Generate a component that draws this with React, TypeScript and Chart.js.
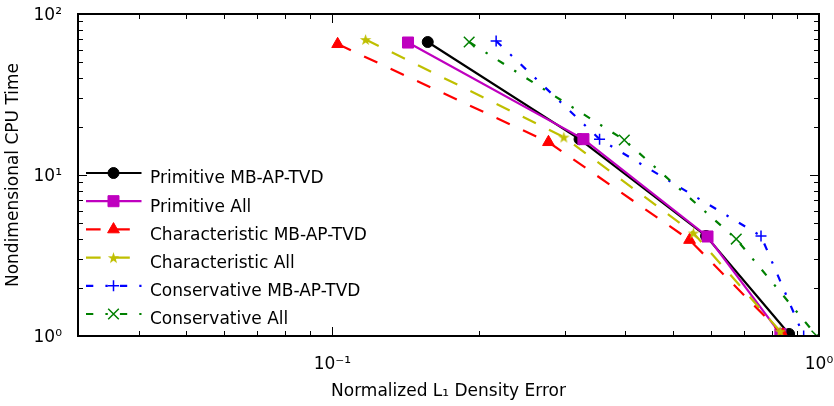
import React, { useEffect, useRef } from 'react';
import { Chart, registerables } from 'chart.js';
import { drawPoint } from 'chart.js/helpers';

Chart.register(...registerables);

// ---- Data ----
const seriesLabels = [
  'Primitive MB-AP-TVD',
  'Primitive All',
  'Characteristic MB-AP-TVD',
  'Characteristic All',
  'Conservative MB-AP-TVD',
  'Conservative All',
];

const primMBError = [0.157, 0.322, 0.586, 0.868];
const primMBTime = [67.0, 16.7, 4.18, 1.03];

const primAllError = [0.143, 0.328, 0.590, 0.833];
const primAllTime = [66.5, 16.7, 4.15, 1.03];

const charMBError = [0.1025, 0.278, 0.542, 0.843];
const charMBTime = [65.0, 16.0, 3.95, 1.02];

const charAllError = [0.117, 0.299, 0.552, 0.832];
const charAllTime = [69.5, 17.2, 4.36, 1.07];

const consMBError = [0.217, 0.354, 0.760, 0.93];
const consMBTime = [68.0, 16.7, 4.18, 1.0];

const consAllError = [0.191, 0.398, 0.676, 0.99];
const consAllTime = [67.0, 16.5, 4.0, 1.0];

const xTickValues = [0.03, 0.04, 0.05, 0.06, 0.07, 0.08, 0.09, 0.1, 0.2, 0.3, 0.4, 0.5, 0.6, 0.7, 0.8, 0.9, 1];
const yTickValues = [1, 2, 3, 4, 5, 6, 7, 8, 9, 10, 20, 30, 40, 50, 60, 70, 80, 90, 100];

const X_MIN = 0.03;
const X_MAX = 1;
const Y_MIN = 1;
const Y_MAX = 100;

const FONT = 'DejaVu Sans';
const FS = 17;

const SUP: Record<string, string> = { '-': '⁻', '0': '⁰', '1': '¹', '2': '²', '3': '³' };

function isPow10(v: number) {
  const l = Math.log10(v);
  return Math.abs(l - Math.round(l)) < 1e-9;
}
function powLabel(v: number) {
  if (!isPow10(v)) return '';
  const e = String(Math.round(Math.log10(v)));
  return '10' + e.split('').map((c) => SUP[c] || c).join('');
}

function makeStar(color: string, size: number) {
  const c = document.createElement('canvas');
  c.width = size;
  c.height = size;
  const g = c.getContext('2d')!;
  const cx = size / 2;
  const cy = size / 2 + 0.6;
  const ro = size / 2 - 0.5;
  const ri = ro * 0.4;
  g.beginPath();
  for (let i = 0; i < 10; i++) {
    const r = i % 2 === 0 ? ro : ri;
    const a = -Math.PI / 2 + (i * Math.PI) / 5;
    const px = cx + r * Math.cos(a);
    const py = cy + r * Math.sin(a);
    if (i === 0) g.moveTo(px, py);
    else g.lineTo(px, py);
  }
  g.closePath();
  g.fillStyle = color;
  g.fill();
  return c;
}

const DASHED = [14.6, 14.6];
const DASHDOT = [7.3, 12.1, 2.4, 12.1];

const frameTicksPlugin = {
  id: 'frameTicks',
  afterDatasetsDraw(chart: any) {
    const { ctx, chartArea } = chart;
    const { left, right, top, bottom } = chartArea;
    const xs = chart.scales.x;
    const ys = chart.scales.y;
    ctx.save();
    ctx.strokeStyle = '#000';
    ctx.lineWidth = 1;
    ctx.beginPath();
    for (const t of xs.ticks) {
      const p = Math.round(xs.getPixelForValue(t.value)) + 0.5;
      const len = isPow10(t.value) ? 9 : 5;
      ctx.moveTo(p, bottom);
      ctx.lineTo(p, bottom - len);
      ctx.moveTo(p, top);
      ctx.lineTo(p, top + len);
    }
    for (const t of ys.ticks) {
      const p = Math.round(ys.getPixelForValue(t.value)) + 0.5;
      const len = isPow10(t.value) ? 9 : 5;
      ctx.moveTo(left, p);
      ctx.lineTo(left + len, p);
      ctx.moveTo(right, p);
      ctx.lineTo(right - len, p);
    }
    ctx.stroke();
    ctx.lineWidth = 2;
    ctx.strokeRect(left, top, right - left, bottom - top);
    ctx.restore();
  },
};

const innerLegendPlugin = {
  id: 'innerLegend',
  afterDraw(chart: any) {
    const { ctx } = chart;
    const x0 = 86;
    const x1 = 141.5;
    const xm = 113.5;
    const yLine0 = 173;
    const step = 28.2;
    ctx.save();
    chart.data.datasets.forEach((ds: any, i: number) => {
      const y = yLine0 + i * step;
      ctx.save();
      ctx.strokeStyle = ds.borderColor;
      ctx.lineWidth = ds.borderWidth;
      ctx.setLineDash(ds.borderDash || []);
      ctx.lineDashOffset = 0;
      ctx.beginPath();
      ctx.moveTo(x0, y);
      ctx.lineTo(x1, y);
      ctx.stroke();
      ctx.setLineDash([]);
      ctx.fillStyle = ds.pointBackgroundColor;
      ctx.strokeStyle = ds.pointBorderColor;
      ctx.lineWidth = ds.pointBorderWidth;
      drawPoint(ctx, { pointStyle: ds.pointStyle, rotation: 0, radius: ds.pointRadius, borderWidth: ds.pointBorderWidth }, xm, y);
      ctx.restore();
      ctx.fillStyle = '#000';
      ctx.font = `${FS}px "${FONT}"`;
      ctx.textAlign = 'left';
      ctx.textBaseline = 'middle';
      ctx.fillText(ds.label, 150, y + 6);
    });
    ctx.restore();
  },
};

function pts(xs: number[], ys: number[]) {
  return xs.map((x, i) => ({ x, y: ys[i] }));
}

export default function App() {
  const ref = useRef<HTMLCanvasElement>(null);

  useEffect(() => {
    const star = makeStar('#bfbf00', 13);
    const base = (i: number) => ({
      label: seriesLabels[i],
      order: 10 - i,
      tension: 0,
      clip: 0,
      fill: false,
    });
    const datasets: any[] = [
      {
        ...base(0),
        data: pts(primMBError, primMBTime),
        borderColor: '#000000',
        borderWidth: 2.2,
        pointStyle: 'circle',
        pointRadius: 5.5,
        pointBackgroundColor: '#000000',
        pointBorderColor: '#000000',
        pointBorderWidth: 1,
      },
      {
        ...base(1),
        data: pts(primAllError, primAllTime),
        borderColor: '#bf00bf',
        borderWidth: 2.2,
        pointStyle: 'rect',
        pointRadius: 7.8,
        pointBackgroundColor: '#bf00bf',
        pointBorderColor: '#bf00bf',
        pointBorderWidth: 1,
      },
      {
        ...base(2),
        data: pts(charMBError, charMBTime),
        borderColor: '#ff0000',
        borderWidth: 2.2,
        borderDash: DASHED,
        pointStyle: 'triangle',
        pointRadius: 6.8,
        pointBackgroundColor: '#ff0000',
        pointBorderColor: '#ff0000',
        pointBorderWidth: 1,
      },
      {
        ...base(3),
        data: pts(charAllError, charAllTime),
        borderColor: '#bfbf00',
        borderWidth: 2.2,
        borderDash: DASHED,
        pointStyle: star,
        pointRadius: 6.5,
        pointBackgroundColor: '#bfbf00',
        pointBorderColor: '#bfbf00',
        pointBorderWidth: 1,
      },
      {
        ...base(4),
        data: pts(consMBError, consMBTime),
        borderColor: '#0000ff',
        borderWidth: 2.2,
        borderDash: DASHDOT,
        pointStyle: 'cross',
        pointRadius: 5.5,
        pointBackgroundColor: '#0000ff',
        pointBorderColor: '#0000ff',
        pointBorderWidth: 1.5,
      },
      {
        ...base(5),
        data: pts(consAllError, consAllTime),
        borderColor: '#008000',
        borderWidth: 2.2,
        borderDash: DASHDOT,
        pointStyle: 'crossRot',
        pointRadius: 7.5,
        pointBackgroundColor: '#008000',
        pointBorderColor: '#008000',
        pointBorderWidth: 1.5,
      },
    ];

    const chart = new Chart(ref.current!, {
      type: 'line',
      data: { datasets },
      options: {
        animation: false,
        responsive: false,
        maintainAspectRatio: false,
        devicePixelRatio: 1,
        layout: { padding: { top: 14, right: 15, bottom: 0, left: 0 } },
        plugins: {
          legend: { display: false },
          tooltip: { enabled: false },
        },
        elements: { point: { hoverRadius: 5 } },
        scales: {
          x: {
            type: 'logarithmic',
            min: X_MIN,
            max: X_MAX,
            afterBuildTicks: (s: any) => {
              s.ticks = xTickValues.map((v) => ({ value: v }));
            },
            afterFit: (s: any) => {
              s.height = 70;
              s.paddingLeft = 0;
              s.paddingRight = 0;
              s.paddingTop = 0;
              s.paddingBottom = 0;
            },
            grid: { display: false, drawTicks: false },
            border: { display: false },
            ticks: {
              autoSkip: false,
              maxRotation: 0,
              minRotation: 0,
              padding: 18,
              color: '#000',
              font: { family: FONT, size: FS },
              callback: (v: any) => powLabel(Number(v)),
            },
            title: {
              display: true,
              text: 'Normalized L₁ Density Error',
              color: '#000',
              font: { family: FONT, size: FS },
              padding: { top: 0, bottom: 4 },
            },
          },
          y: {
            type: 'logarithmic',
            min: Y_MIN,
            max: Y_MAX,
            afterBuildTicks: (s: any) => {
              s.ticks = yTickValues.map((v) => ({ value: v }));
            },
            afterFit: (s: any) => {
              s.width = 78;
              s.paddingLeft = 0;
              s.paddingRight = 0;
              s.paddingTop = 0;
              s.paddingBottom = 0;
            },
            grid: { display: false, drawTicks: false },
            border: { display: false },
            ticks: {
              autoSkip: false,
              maxRotation: 0,
              minRotation: 0,
              padding: 16,
              labelOffset: 2,
              color: '#000',
              font: { family: FONT, size: FS },
              callback: (v: any) => powLabel(Number(v)),
            },
            title: {
              display: true,
              text: 'Nondimensional CPU Time',
              color: '#000',
              font: { family: FONT, size: FS },
              padding: { top: 3.5, bottom: 0 },
            },
          },
        },
      } as any,
      plugins: [frameTicksPlugin, innerLegendPlugin],
    });
    return () => chart.destroy();
  }, []);

  return (
    <div style={{ position: 'fixed', left: 0, top: 0, width: 834, height: 406, background: '#fff' }}>
      <canvas ref={ref} width={834} height={406} style={{ width: 834, height: 406, display: 'block' }} />
    </div>
  );
}
